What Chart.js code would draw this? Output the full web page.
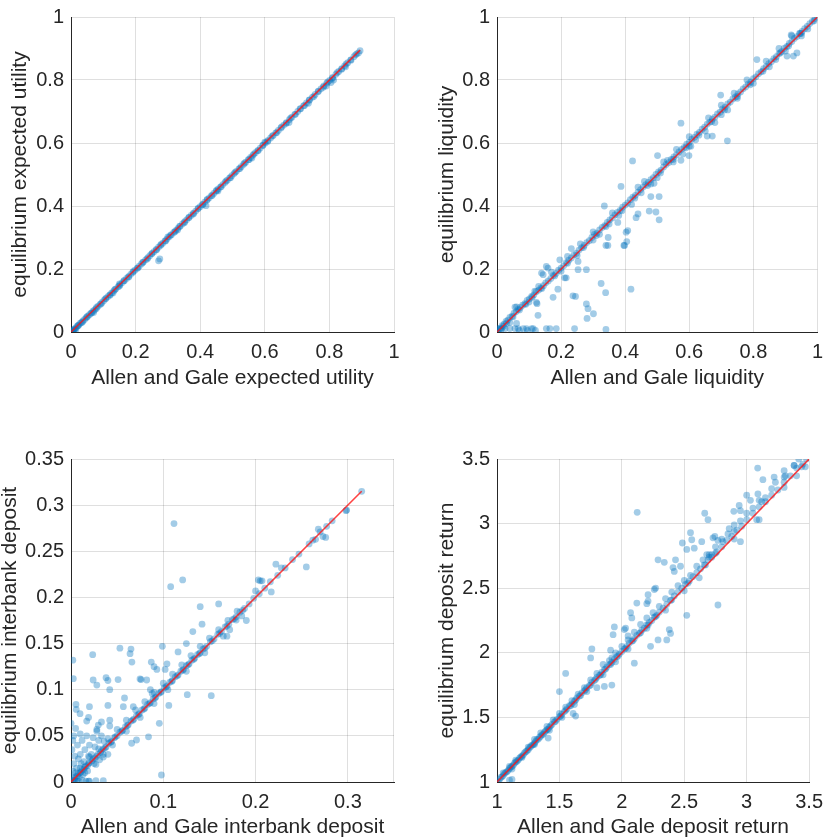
<!DOCTYPE html>
<html>
<head>
<meta charset="utf-8">
<script src="https://cdn.jsdelivr.net/npm/chart.js@4.4.1/dist/chart.umd.min.js"></script>
<style>
  html, body { margin: 0; padding: 0; background: #fff; }
  .panel { position: absolute; }
</style>
</head>
<body>
<div class="panel" style="left:0;top:0;width:416px;height:400px"><canvas id="utility"></canvas></div>
<div class="panel" style="left:416px;top:0;width:417px;height:400px"><canvas id="liquidity"></canvas></div>
<div class="panel" style="left:0;top:420px;width:416px;height:419px"><canvas id="interbank"></canvas></div>
<div class="panel" style="left:416px;top:420px;width:417px;height:419px"><canvas id="deposit"></canvas></div>
<script>
// [Allen and Gale value, equilibrium value]
const utilityPts = [
  [0,0],[0.003,0.002],[0.006,0.005],[0.009,0.008],[0.012,0.011],[0.016,0.014],[0.02,0.019],[0.024,0.022],[0.028,0.027],[0.032,0.03],
  [0.037,0.035],[0.042,0.04],[0.047,0.045],[0.052,0.05],[0.057,0.055],[0.062,0.06],[0.068,0.066],[0.073,0.07],[0.078,0.074],[0.084,0.082],
  [0.09,0.088],[0.096,0.094],[0.102,0.1],[0.108,0.106],[0.114,0.112],[0.12,0.118],[0.126,0.124],[0.133,0.131],[0.139,0.137],[0.146,0.144],
  [0.152,0.15],[0.159,0.157],[0.165,0.163],[0.172,0.17],[0.178,0.176],[0.185,0.183],[0.191,0.189],[0.198,0.196],[0.205,0.203],[0.211,0.209],
  [0.218,0.216],[0.224,0.222],[0.231,0.229],[0.238,0.236],[0.244,0.242],[0.251,0.249],[0.257,0.255],[0.264,0.262],[0.271,0.269],[0.277,0.275],
  [0.284,0.282],[0.291,0.289],[0.297,0.295],[0.304,0.302],[0.311,0.309],[0.318,0.316],[0.324,0.322],[0.331,0.329],[0.338,0.336],[0.345,0.343],
  [0.352,0.35],[0.358,0.356],[0.365,0.363],[0.372,0.37],[0.379,0.377],[0.386,0.384],[0.393,0.391],[0.4,0.398],[0.407,0.405],[0.414,0.412],
  [0.421,0.419],[0.428,0.426],[0.435,0.433],[0.442,0.44],[0.449,0.447],[0.456,0.454],[0.463,0.461],[0.47,0.468],[0.477,0.475],[0.484,0.482],
  [0.491,0.489],[0.498,0.496],[0.505,0.503],[0.512,0.51],[0.52,0.518],[0.527,0.525],[0.534,0.532],[0.541,0.539],[0.549,0.547],[0.556,0.554],
  [0.563,0.561],[0.571,0.569],[0.578,0.576],[0.586,0.584],[0.594,0.592],[0.602,0.6],[0.61,0.608],[0.618,0.616],[0.626,0.624],[0.634,0.632],
  [0.642,0.64],[0.65,0.648],[0.659,0.657],[0.667,0.665],[0.676,0.674],[0.684,0.682],[0.693,0.691],[0.702,0.7],[0.711,0.709],[0.72,0.718],
  [0.729,0.727],[0.738,0.736],[0.747,0.745],[0.756,0.754],[0.765,0.763],[0.774,0.772],[0.783,0.781],[0.792,0.79],[0.801,0.799],[0.81,0.808],
  [0.82,0.818],[0.829,0.827],[0.838,0.836],[0.847,0.845],[0.857,0.855],[0.866,0.864],[0.876,0.874],[0.885,0.883],[0.895,0.893],
  [0.01,0.006],[0.022,0.02],[0.035,0.031],[0.049,0.048],[0.064,0.06],[0.079,0.078],[0.093,0.089],[0.107,0.106],[0.121,0.117],[0.136,0.135],
  [0.15,0.146],[0.164,0.163],[0.179,0.175],[0.193,0.192],[0.207,0.203],[0.222,0.221],[0.236,0.232],[0.25,0.249],[0.265,0.261],[0.279,0.278],
  [0.293,0.289],[0.308,0.307],[0.322,0.318],[0.336,0.335],[0.351,0.347],[0.365,0.364],[0.379,0.375],[0.394,0.393],[0.408,0.404],[0.422,0.421],
  [0.437,0.433],[0.451,0.45],[0.465,0.461],[0.48,0.479],[0.494,0.49],[0.508,0.507],[0.523,0.519],[0.537,0.536],[0.551,0.547],[0.566,0.565],
  [0.58,0.576],[0.594,0.593],[0.609,0.605],[0.623,0.622],[0.637,0.633],[0.652,0.651],[0.666,0.662],[0.68,0.679],[0.695,0.691],[0.709,0.708],
  [0.723,0.719],[0.738,0.737],[0.752,0.748],[0.766,0.765],[0.781,0.777],[0.795,0.794],[0.809,0.805],[0.824,0.823],[0.838,0.834],[0.852,0.851],
  [0.867,0.863],[0.881,0.88],[0.89,0.886],
  [0.275,0.232],[0.271,0.226],[0.418,0.401],[0.005,0],[0.015,0.008],[0.07,0.062],[0.13,0.124],[0.33,0.324],[0.455,0.448],[0.56,0.552],
  [0.675,0.665],[0.735,0.726],[0.79,0.781],[0.805,0.792],[0.813,0.8],[0.85,0.842],[0.3,0.302],[0.15,0.153],[0.6,0.603]
];
const liquidityPts = [
  [0,0],[0.005,0.01],[0.01,0.012],[0.016,0.02],[0.022,0.025],[0.028,0.034],[0.034,0.038],[0.04,0.046],[0.047,0.05],[0.053,0.06],
  [0.06,0.065],[0.066,0.072],[0.073,0.078],[0.08,0.085],[0.087,0.09],[0.094,0.1],[0.101,0.105],[0.108,0.113],[0.115,0.118],[0.122,0.128],
  [0.13,0.133],[0.137,0.14],[0.145,0.147],[0.152,0.156],[0.16,0.162],[0.168,0.17],[0.176,0.18],[0.184,0.186],[0.192,0.196],[0.2,0.203],
  [0.208,0.21],[0.216,0.22],[0.224,0.228],[0.232,0.235],[0.24,0.245],[0.248,0.25],[0.256,0.26],[0.264,0.268],[0.272,0.275],[0.28,0.284],
  [0.288,0.29],[0.296,0.3],[0.304,0.31],[0.312,0.314],[0.32,0.324],[0.328,0.332],[0.336,0.338],[0.344,0.348],[0.352,0.356],[0.36,0.362],
  [0.368,0.372],[0.376,0.38],[0.384,0.386],[0.392,0.396],[0.4,0.403],[0.408,0.41],[0.416,0.42],[0.424,0.428],[0.432,0.434],[0.44,0.444],
  [0.448,0.452],[0.456,0.46],[0.464,0.468],[0.472,0.475],[0.48,0.484],[0.488,0.49],[0.496,0.5],[0.504,0.508],[0.512,0.514],[0.52,0.524],
  [0.528,0.532],[0.536,0.538],[0.544,0.548],[0.552,0.556],[0.56,0.562],[0.568,0.572],[0.576,0.58],[0.584,0.586],[0.592,0.596],[0.6,0.602],
  [0.608,0.612],[0.616,0.618],[0.624,0.628],[0.632,0.634],[0.64,0.644],[0.648,0.65],[0.656,0.66],[0.664,0.666],[0.672,0.676],[0.68,0.682],
  [0.688,0.692],[0.696,0.698],[0.704,0.708],[0.712,0.714],[0.72,0.724],[0.728,0.73],[0.736,0.74],[0.744,0.746],[0.752,0.756],[0.76,0.762],
  [0.768,0.772],[0.776,0.778],[0.784,0.788],[0.792,0.794],[0.8,0.804],[0.808,0.81],[0.816,0.82],[0.824,0.826],[0.832,0.836],[0.84,0.842],
  [0.848,0.852],[0.856,0.858],[0.864,0.868],[0.872,0.874],[0.88,0.884],[0.888,0.89],[0.896,0.9],[0.904,0.906],[0.912,0.916],[0.92,0.922],
  [0.928,0.932],[0.936,0.938],[0.944,0.948],[0.952,0.954],[0.96,0.963],[0.968,0.97],[0.976,0.979],[0.984,0.986],[0.992,0.994],[1,1],
  [0.004,0.003],[0.012,0.008],[0.02,0.018],[0.03,0.028],[0.05,0.048],[0.07,0.07],[0.09,0.088],[0.11,0.11],[0.14,0.138],[0.18,0.178],
  [0.22,0.218],[0.27,0.268],[0.31,0.306],[0.34,0.335],[0.39,0.385],[0.43,0.425],[0.47,0.465],[0.51,0.505],[0.55,0.548],[0.59,0.585],
  [0.63,0.625],[0.67,0.668],[0.71,0.705],[0.75,0.748],[0.79,0.785],[0.83,0.828],[0.87,0.865],[0.91,0.908],[0.95,0.948],[0.99,0.988],
  [0.1,0.095],[0.2,0.193],[0.25,0.243],[0.3,0.292],[0.35,0.343],[0.45,0.442],[0.5,0.49],[0.55,0.54],[0.6,0.59],[0.65,0.638],
  [0.7,0.69],[0.75,0.742],[0.8,0.79],[0.85,0.842],[0.9,0.892],[0.95,0.94],[0.97,0.962],[0.62,0.61],[0.68,0.665],[0.72,0.705],
  [0.58,0.565],[0.48,0.47],[0.42,0.405],[0.38,0.37],[0.32,0.31],
  [0.13,0.145],[0.17,0.19],[0.22,0.24],[0.26,0.28],[0.3,0.318],[0.36,0.378],[0.44,0.46],[0.46,0.478],[0.52,0.54],[0.56,0.58],
  [0.6,0.62],[0.66,0.68],[0.7,0.72],[0.74,0.758],[0.78,0.8],[0.84,0.86],[0.88,0.9],[0.92,0.94],
  [0.423,0.543],[0.501,0.56],[0.387,0.462],[0.335,0.4],[0.475,0.384],[0.496,0.381],[0.506,0.356],[0.434,0.363],[0.44,0.375],[0.403,0.317],
  [0.398,0.275],[0.405,0.287],[0.34,0.275],[0.347,0.3],[0.279,0.198],[0.253,0.198],[0.216,0.172],[0.211,0.172],[0.19,0.136],[0.237,0.115],
  [0.245,0.113],[0.325,0.154],[0.339,0.125],[0.418,0.136],[0.279,0.089],[0.284,0.074],[0.301,0.058],[0.281,0.043],[0.175,0.11],[0.128,0.053],
  [0.123,0.094],[0.125,0.09],[0.144,0.182],[0.154,0.208],[0.196,0.229],[0.253,0.224],[0.056,0.079],[0.061,0.08],[0.118,0.13],[0.159,0.203],
  [0.139,0.187],[0.232,0.265],[0.574,0.663],[0.698,0.752],[0.811,0.865],[0.946,0.948],[0.918,0.943],[0.719,0.607],[0.672,0.622],[0.656,0.622],
  [0.599,0.56],[0.574,0.545],[0.925,0.876],[0.884,0.886],[0.936,0.886],[0.905,0.876],[0.48,0.43],[0.506,0.43],[0.49,0.472],[0.532,0.545],
  [0.605,0.59],[0.377,0.348],[0.408,0.322],[0.396,0.275],[0.346,0.275],
  [0,0.011],[0.015,0.011],[0.025,0.011],[0.04,0.011],[0.056,0.011],[0.066,0.011],[0.082,0.011],[0.092,0.011],[0.108,0.011],[0.113,0.011],
  [0.154,0.011],[0.165,0.011],[0.185,0.011],[0.242,0.011],[0.34,0.008],[0.061,0.027],[0.04,0.03],[0.07,0.005],[0.095,0.005],[0.12,0.005]
];
const interbankPts = [
  [0,0],[0.002,0.002],[0.004,0.005],[0.006,0.006],[0.008,0.009],[0.01,0.01],[0.012,0.013],[0.014,0.014],[0.016,0.017],[0.018,0.018],
  [0.02,0.021],[0.023,0.023],[0.026,0.026],[0.029,0.03],[0.032,0.032],[0.035,0.036],[0.038,0.038],[0.041,0.042],[0.044,0.044],[0.047,0.048],
  [0.05,0.05],[0.053,0.054],[0.056,0.056],[0.059,0.06],[0.062,0.062],[0.065,0.066],[0.068,0.068],[0.071,0.072],[0.074,0.074],[0.077,0.078],
  [0.08,0.08],[0.083,0.084],[0.086,0.086],[0.089,0.09],[0.092,0.092],[0.095,0.096],[0.098,0.098],[0.101,0.102],[0.104,0.104],[0.107,0.108],
  [0.11,0.11],[0.113,0.114],[0.116,0.116],[0.119,0.12],[0.122,0.122],[0.125,0.126],[0.128,0.128],[0.131,0.132],[0.134,0.134],[0.137,0.138],
  [0.14,0.14],[0.143,0.144],[0.147,0.147],[0.151,0.152],[0.155,0.155],[0.159,0.16],[0.163,0.163],[0.167,0.168],[0.171,0.171],[0.175,0.176],
  [0.179,0.179],[0.183,0.184],[0.188,0.188],[0.193,0.193],[0.198,0.199],[0.204,0.204],[0.21,0.21],[0.216,0.217],[0.224,0.224],[0.232,0.232],
  [0.24,0.241],[0.247,0.247],[0.258,0.258],[0.262,0.262],[0.27,0.271],[0.277,0.277],[0.298,0.294],[0.315,0.315],
  [0.003,0.001],[0.007,0.007],[0.011,0.011],[0.015,0.016],[0.019,0.02],[0.024,0.025],[0.028,0.028],[0.033,0.034],[0.037,0.037],[0.043,0.043],
  [0.048,0.049],[0.055,0.055],[0.061,0.061],[0.067,0.067],[0.073,0.073],[0.079,0.079],[0.085,0.085],[0.091,0.091],[0.097,0.097],[0.103,0.103],
  [0.109,0.109],[0.115,0.115],[0.121,0.121],[0.127,0.127],[0.133,0.133],[0.139,0.139],[0.145,0.145],[0.153,0.153],[0.161,0.161],[0.169,0.169],
  [0.177,0.177],[0.186,0.186],
  [0.01,0.015],[0.02,0.027],[0.03,0.036],[0.04,0.047],[0.05,0.057],[0.06,0.067],[0.07,0.078],[0.08,0.087],[0.09,0.097],[0.1,0.107],
  [0.11,0.117],[0.12,0.127],[0.13,0.137],[0.14,0.147],[0.15,0.156],[0.16,0.165],[0.17,0.175],[0.18,0.185],[0.2,0.207],[0.205,0.218],
  [0.207,0.218],[0.228,0.232],[0.265,0.263],[0.268,0.274],[0.276,0.265],[0.283,0.283],
  [0.015,0.01],[0.025,0.02],[0.035,0.03],[0.045,0.04],[0.06,0.055],[0.075,0.07],[0.09,0.085],[0.105,0.1],[0.125,0.12],[0.145,0.14],
  [0.165,0.158],[0.185,0.18],[0.19,0.175],[0.172,0.165],
  [0.001,0.005],[0.002,0.012],[0.003,0.02],[0.004,0.028],[0.001,0.035],[0.006,0.015],[0.008,0.025],[0.007,0.04],[0.01,0.03],[0.012,0.045],
  [0.014,0.022],[0.015,0.035],[0.017,0.05],[0.02,0.04],[0.022,0.03],[0.024,0.048],[0.026,0.038],[0.028,0.055],[0.03,0.045],[0.033,0.05],
  [0.036,0.044],[0.011,0.02],[0.005,0.01],[0.009,0.005],[0.013,0.008],[0.018,0.012],[0.004,0.002],[0.006,0.001],[0.008,0.001],[0.012,0.002],
  [0.016,0.001],[0.02,0.001],[0.003,0.05],[0.005,0.058],[0.002,0.045],[0.01,0.052],[0.019,0.028],[0.027,0.019],[0.031,0.024],[0.035,0.027],
  [0.04,0.03],
  [0.1116,0.28],[0.108,0.2116],[0.121,0.219],[0.14,0.19],[0.16,0.193],[0.142,0.171],[0.132,0.163],[0.125,0.15],[0.116,0.141],[0.099,0.147],
  [0.053,0.145],[0.065,0.144],[0.064,0.139],[0.066,0.13],[0.0235,0.138],[0.002,0.132],[0.0025,0.112],[0.024,0.1105],[0.028,0.105],[0.038,0.113],
  [0.04,0.11],[0.042,0.1],[0.051,0.111],[0.058,0.091],[0.04,0.083],[0.02,0.0816],[0.0054,0.084],[0.0057,0.0786],[0.0098,0.074],[0,0.0636],
  [0.017,0.066],[0.0296,0.0617],[0.028,0.057],[0.042,0.0607],[0.0567,0.0816],[0.0675,0.0816],[0.0748,0.1116],[0.082,0.1105],[0.086,0.1],[0.088,0.096],
  [0.087,0.13],[0.09,0.125],[0.093,0.122],[0.102,0.122],[0.104,0.128],[0.0957,0.0636],[0.106,0.083],[0.126,0.0946],[0.152,0.0935],[0.098,0.0076],
  [0.0657,0.042],[0.071,0.0455],[0.084,0.049],[0.027,0.0014],[0.035,0.0014],[0.019,0.001],[0.169,0.158],[0.179,0.1755],[0.203,0.219],[0.217,0.206],
  [0.222,0.236],[0.255,0.233],[0.273,0.266],[0.2987,0.2947],[0.019,0.07],[0.033,0.065],[0.042,0.067],[0.076,0.111]
];
const depositPts = [
  [1,1],[1.02,1.02],[1.04,1.04],[1.06,1.065],[1.08,1.08],[1.1,1.105],[1.12,1.12],[1.14,1.145],[1.16,1.16],[1.18,1.185],
  [1.2,1.2],[1.22,1.225],[1.24,1.24],[1.26,1.265],[1.28,1.285],[1.3,1.3],[1.32,1.33],[1.34,1.345],[1.36,1.365],[1.38,1.385],
  [1.4,1.405],[1.42,1.425],[1.44,1.445],[1.46,1.465],[1.48,1.485],[1.5,1.505],[1.52,1.525],[1.54,1.545],[1.56,1.565],[1.58,1.59],
  [1.6,1.605],[1.62,1.625],[1.64,1.65],[1.66,1.665],[1.68,1.69],[1.7,1.705],[1.72,1.73],[1.74,1.745],[1.76,1.77],[1.78,1.785],
  [1.8,1.81],[1.82,1.825],[1.84,1.85],[1.86,1.87],[1.88,1.89],[1.9,1.91],[1.92,1.925],[1.94,1.95],[1.96,1.97],[1.98,1.99],
  [2,2.01],[2.02,2.03],[2.04,2.05],[2.06,2.075],[2.08,2.09],[2.1,2.11],[2.12,2.135],[2.14,2.15],[2.16,2.175],[2.18,2.19],
  [2.2,2.215],[2.22,2.235],[2.24,2.25],[2.26,2.275],[2.28,2.29],[2.3,2.315],[2.33,2.345],[2.36,2.375],[2.39,2.405],[2.42,2.44],
  [2.45,2.47],[2.48,2.5],[2.51,2.53],[2.54,2.555],[2.57,2.59],[2.6,2.62],[2.63,2.65],[2.66,2.68],[2.69,2.72],[2.72,2.74],
  [2.76,2.78],[2.8,2.82],[2.84,2.87],[2.88,2.9],[2.92,2.95],[2.96,2.98],[3,3.03],[3.05,3.08],[3.1,3.13],[3.15,3.17],
  [3.2,3.22],[3.25,3.26],[3.3,3.32],[3.35,3.37],[3.4,3.43],[3.45,3.46],[3.48,3.5],
  [1.01,1.005],[1.03,1.035],[1.05,1.05],[1.07,1.075],[1.09,1.09],[1.11,1.115],[1.13,1.13],[1.15,1.155],[1.17,1.17],[1.19,1.195],
  [1.21,1.21],[1.23,1.235],[1.25,1.25],[1.27,1.275],[1.29,1.29],[1.31,1.315],[1.33,1.33],[1.35,1.355],[1.37,1.37],[1.39,1.395],
  [1.41,1.41],[1.43,1.435],[1.47,1.47],[1.51,1.51],[1.55,1.555],[1.59,1.59],[1.63,1.635],[1.67,1.67],[1.71,1.715],[1.75,1.75],
  [1.79,1.795],[1.83,1.83],[1.87,1.875],[1.91,1.91],[1.97,1.975],[2.03,2.035],[2.09,2.095],[2.15,2.155],[2.21,2.215],[2.27,2.28],
  [2.4,2.41],[2.53,2.54],[2.67,2.68],
  [1.05,1.07],[1.1,1.12],[1.15,1.17],[1.25,1.27],[1.3,1.33],[1.35,1.38],[1.4,1.43],[1.45,1.48],[1.5,1.53],[1.55,1.58],
  [1.6,1.63],[1.65,1.68],[1.7,1.73],[1.75,1.79],[1.8,1.84],[1.85,1.91],[1.9,1.94],[1.95,2],[2,2.05],[2.05,2.1],
  [2.1,2.16],[2.15,2.22],[2.2,2.27],[2.25,2.31],[2.3,2.36],[2.35,2.42],[2.4,2.47],[2.45,2.52],[2.5,2.56],[2.55,2.6],
  [2.6,2.67],[2.65,2.72],[2.7,2.76],[2.75,2.82],[2.8,2.88],[2.85,2.92],[2.9,2.99],[2.95,3.02],[3,3.08],[3.05,3.12],
  [3.1,3.18],[3.15,3.2],[3.2,3.27],[3.3,3.36],[3.38,3.45],
  [1.12,1.1],[1.2,1.19],[1.3,1.29],[1.42,1.4],[1.52,1.5],[1.62,1.6],[1.72,1.7],[1.85,1.83],[1.95,1.93],[2.05,2.03],
  [2.2,2.19],[2.35,2.33],[2.5,2.48],[2.62,2.58],[2.9,2.88],[3.1,3.03],[3.4,3.37],[3.47,3.44],
  [2.123,3.087],[3.088,3.43],[3.417,3.5],[3.38,3.45],[3.44,3.44],[3.13,3.34],[3.23,3.32],[3.31,3.37],[3.3,3.28],[3,3.22],
  [3.03,3.18],[2.897,3.095],[2.95,3.1],[2.664,3.08],[2.69,3.03],[2.55,2.93],[2.485,2.85],[2.56,2.875],[2.58,2.81],[2.52,2.8],
  [2.64,2.86],[2.29,2.72],[2.34,2.7],[2.43,2.72],[2.41,2.66],[2.47,2.67],[2.72,2.76],[2.75,2.77],[2.745,2.9],[2.81,2.86],
  [2.9,2.94],[2.95,2.86],[2.77,2.37],[2.52,2.29],[2.38,2.18],[2.39,2.15],[2.36,2.1],[2.29,2.1],[2.23,2.05],[2.2,2.38],
  [2.12,2.385],[2.21,2.45],[2.27,2.5],[2.07,2.31],[2.08,2.27],[1.94,2.2],[1.93,2.14],[2.02,2.18],[2.05,2.13],[1.76,2.03],
  [1.75,1.96],[1.91,2.02],[1.92,1.96],[1.55,1.84],[1.5,1.7],[1.92,1.75],[1.86,1.74],[1.8,1.73],[2.1,1.92],[1.63,1.51],
  [1.61,1.53],[1.41,1.34],[1.1,1.015],[1.12,1.02],[3.22,3.36],[3.3,3.41],[3.09,3.23],[3.12,3.17],[3.08,3.03],[2.86,2.96],
  [2.73,2.89],[2.77,2.87],[2.94,3.14],[2.68,2.76],[2.7,2.74],[2.42,2.63],[2.21,2.4],[2.26,2.49],[2.03,2.19]
];

// 45-degree reference line ends
const utilityLine = [0, 0.895];
const liquidityLine = [0, 1];
const interbankLine = [0, 0.315];
const depositLine = [1, 3.5];

const INK = '#262626';
const GRID = 'rgba(38,38,38,0.15)';
const FONT = "'Liberation Sans', Arial, Helvetica, sans-serif";

// MATLAB-style tick text: 1 instead of 1.0, 0.1 instead of 0.10
const tidy = v => String(Number(v.toFixed(4)));

// light right-hand box edge, for axes whose max is not a tick
const rightEdge = {
  id: 'rightEdge',
  beforeDatasetsDraw(chart) {
    const { ctx, chartArea: a } = chart;
    ctx.save();
    ctx.strokeStyle = GRID;
    ctx.lineWidth = 1;
    ctx.beginPath();
    ctx.moveTo(Math.round(a.right) - 0.5, a.top);
    ctx.lineTo(Math.round(a.right) - 0.5, a.bottom);
    ctx.stroke();
    ctx.restore();
  },
};

function renderPanel(id, pts, line, axis, box) {
  const tickFont = { family: FONT, size: 20, lineHeight: 1 };
  const titleFont = { family: FONT, size: 21, lineHeight: 1 };

  new Chart(document.getElementById(id), {
    type: 'scatter',
    data: {
      datasets: [
        {
          type: 'line',
          data: line.map(v => ({ x: v, y: v })),
          borderColor: 'rgba(255,20,20,0.8)',
          borderWidth: 1.6,
          pointRadius: 0,
          order: 0,
        },
        {
          data: pts.map(([x, y]) => ({ x, y })),
          backgroundColor: 'rgba(0,114,189,0.36)',
          borderWidth: 0,
          pointRadius: 3.4,
          order: 1,
        },
      ],
    },
    plugins: box.edge ? [rightEdge] : [],
    options: {
      animation: false,
      responsive: true,
      maintainAspectRatio: false,
      layout: { padding: { top: box.top, right: box.right, left: 0, bottom: 0 } },
      plugins: { legend: { display: false }, tooltip: { enabled: false } },
      scales: {
        x: {
          type: 'linear',
          min: axis.min,
          max: axis.xmax,
          ticks: {
            stepSize: axis.xstep,
            includeBounds: false,
            autoSkip: false,
            maxRotation: 0,
            padding: 10,
            color: INK,
            font: tickFont,
            callback: tidy,
          },
          grid: { color: GRID, drawTicks: false },
          border: { color: INK },
          title: { display: true, text: axis.xtitle, color: INK, font: titleFont, padding: { top: 0, bottom: box.xTitle } },
          afterFit: s => { s.height = box.xh; },
        },
        y: {
          type: 'linear',
          min: axis.min,
          max: axis.ymax,
          ticks: { stepSize: axis.ystep, autoSkip: false, padding: 7, color: INK, font: tickFont, callback: tidy },
          grid: { color: GRID, drawTicks: false },
          border: { color: INK },
          title: { display: true, text: axis.ytitle, color: INK, font: titleFont, padding: { top: box.yTitle, bottom: 0 } },
          afterFit: s => { s.width = box.yw; },
        },
      },
    },
  });
}

renderPanel('utility', utilityPts, utilityLine,
  { min: 0, xmax: 1, ymax: 1, xstep: 0.2, ystep: 0.2,
    xtitle: 'Allen and Gale expected utility', ytitle: 'equilibrium expected utility' },
  { top: 10, right: 22, xh: 68, yw: 71, xTitle: 11.5, yTitle: 9.5 });

renderPanel('liquidity', liquidityPts, liquidityLine,
  { min: 0, xmax: 1, ymax: 1, xstep: 0.2, ystep: 0.2,
    xtitle: 'Allen and Gale liquidity', ytitle: 'equilibrium liquidity' },
  { top: 10, right: 14, xh: 68, yw: 81, xTitle: 11.5, yTitle: 20.5 });

renderPanel('interbank', interbankPts, interbankLine,
  { min: 0, xmax: 0.35, ymax: 0.35, xstep: 0.1, ystep: 0.05,
    xtitle: 'Allen and Gale interbank deposit', ytitle: 'equilibrium interbank deposit' },
  { top: 39, right: 22, xh: 57, yw: 71, xTitle: 1.5, yTitle: 0, edge: true });

renderPanel('deposit', depositPts, depositLine,
  { min: 1, xmax: 3.5, ymax: 3.5, xstep: 0.5, ystep: 0.5,
    xtitle: 'Allen and Gale deposit return', ytitle: 'equilibrium deposit return' },
  { top: 39, right: 14, xh: 57, yw: 81, xTitle: 1.5, yTitle: 20.5 });
</script>
</body>
</html>
